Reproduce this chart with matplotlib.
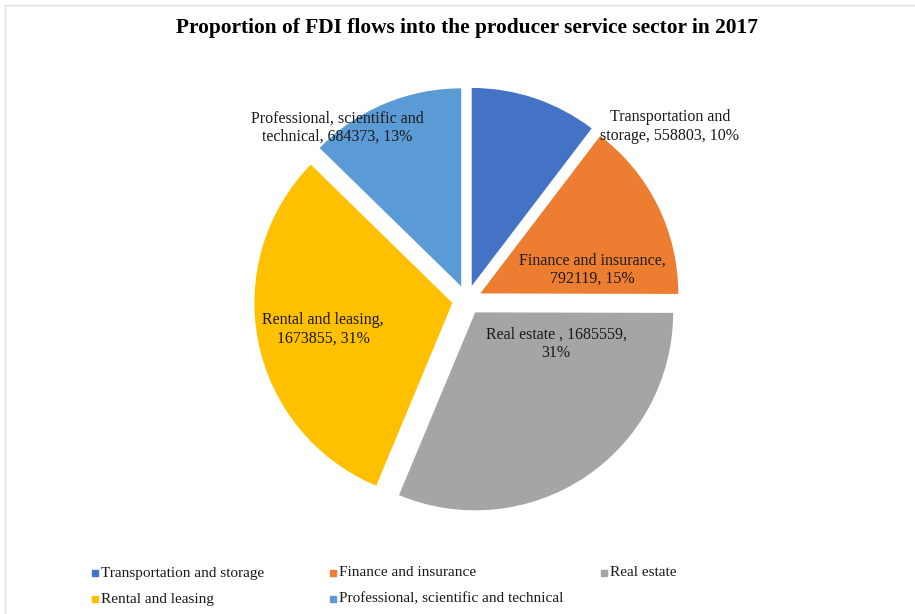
import matplotlib

matplotlib.use("Agg")

import matplotlib.pyplot as plt  # noqa: E402
from matplotlib.patches import Rectangle  # noqa: E402

plt.rcParams["font.family"] = ["Liberation Serif", "DejaVu Serif"]

sectors = [
    "Transportation and storage",
    "Finance and insurance",
    "Real estate",
    "Rental and leasing",
    "Professional, scientific and technical",
]
fdi_flows = [558803, 792119, 1685559, 1673855, 684373]
label_names = [
    "Transportation and\nstorage",
    "Finance and insurance,\n",
    "Real estate ,",
    "Rental and leasing,\n",
    "Professional, scientific and\ntechnical",
]
colors = ["#4472C4", "#ED7D31", "#A5A5A5", "#FFC000", "#5B9BD5"]

# label centres in pie units (radius = 1)
label_xy = [(1.025, 0.876), (0.631, 0.152), (0.45, -0.22), (-0.727, -0.149), (-0.655, 0.871)]


def label_text(name: str, value: int, pct: int) -> str:
    if name.endswith("\n"):
        return f"{name}{value}, {pct}%"
    if name.endswith(","):
        return f"{name} {value},\n{pct}%"
    return f"{name}, {value}, {pct}%"


def main() -> None:
    fig = plt.figure(figsize=(9.15, 6.14), dpi=100)
    ax = fig.add_axes([0.2507, 0.1244, 0.5193, 0.774])

    wedges, _ = ax.pie(
        fdi_flows,
        colors=colors,
        startangle=90,
        counterclock=False,
        explode=[0.075] * len(fdi_flows),
        radius=1.0,
        wedgeprops={"linewidth": 0},
    )
    ax.set_xlim(-1.2, 1.2)
    ax.set_ylim(-1.2, 1.2)
    ax.set_aspect("equal")
    ax.axis("off")

    total = sum(fdi_flows)
    for name, value, (x, y) in zip(label_names, fdi_flows, label_xy):
        pct = round(100 * value / total)
        ax.text(x, y, label_text(name, value, pct), ha="center", va="center",
                fontsize=11.5, linespacing=1.2, color="#1a1a1a")

    fig.text(467 / 915, 1 - 28 / 614, "Proportion of FDI flows into the producer service sector in 2017",
             ha="center", va="center", fontsize=15.4, fontweight="bold")

    # legend laid out in fixed-width columns
    col_x = [92, 330, 601]
    row_y = [573, 599]
    slots = [(0, 0), (0, 1), (0, 2), (1, 0), (1, 1)]
    for (row, col), name, color in zip(slots, sectors, colors):
        x = col_x[col] / 915
        y = 1 - row_y[row] / 614
        fig.patches.append(Rectangle((x, y - 3 / 614), 6 / 915, 6 / 614,
                                     transform=fig.transFigure, color=color))
        fig.text(x + 9 / 915, y, name, ha="left", va="center", fontsize=11,
                 color="#1a1a1a")

    # chart area border
    fig.patches.append(Rectangle((5 / 915, -0.1), 1.2, 1.1 - 5 / 614,
                                 transform=fig.transFigure, fill=False,
                                 edgecolor="#e0e0e0", linewidth=1))

    fig.savefig("out.png", dpi=100)
    plt.close(fig)


if __name__ == "__main__":
    main()
